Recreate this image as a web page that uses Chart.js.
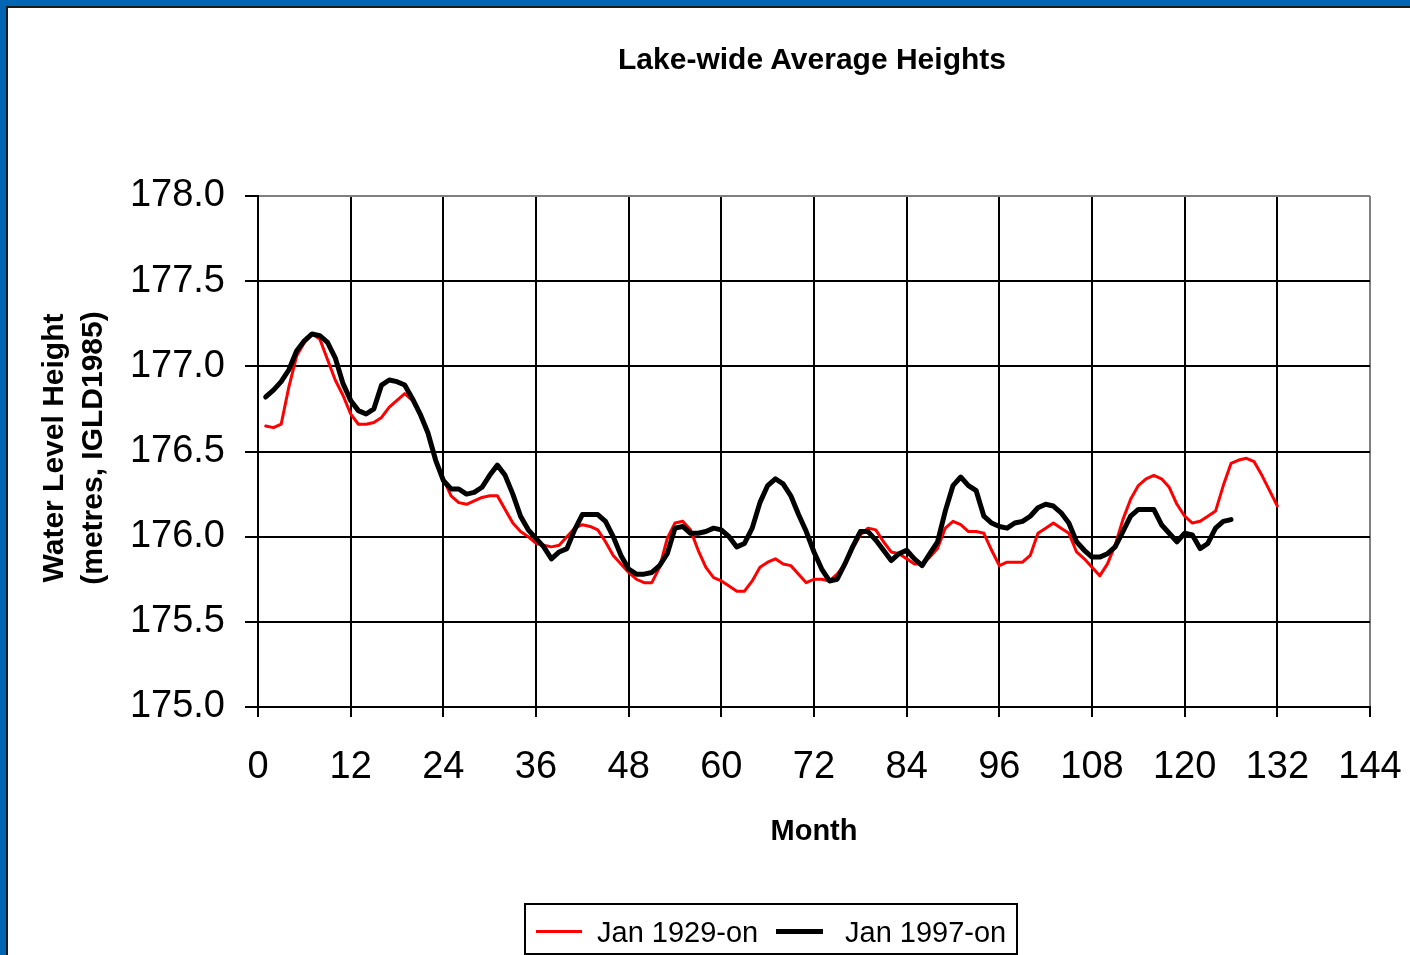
<!DOCTYPE html>
<html>
<head>
<meta charset="utf-8">
<script src="https://cdn.jsdelivr.net/npm/chart.js@4"></script>
<style>
  html, body { margin: 0; padding: 0; background: #fff; overflow: hidden; }
  body { width: 1410px; height: 955px; position: relative; font-family: "Liberation Sans", Arial, sans-serif; }
  #frame { position: absolute; left: 0; top: 0; width: 1500px; height: 1100px; border-left: 6px solid #0066b3; border-top: 6px solid #0066b3; }
  #frame div { width: 100%; height: 100%; border-left: 2px solid #1a1a1a; border-top: 2px solid #1a1a1a; }
  #graficoNivel { position: absolute; left: 0; top: 0; }
  .txt { position: absolute; color: #000; white-space: nowrap; }
  #titulo { left: 562px; width: 500px; top: 42px; text-align: center; font-weight: bold; font-size: 30px; line-height: 34px; }
  #tituloX { left: 664px; width: 300px; top: 813px; text-align: center; font-weight: bold; font-size: 29px; line-height: 34px; }
  #tituloY { left: -128px; top: 409px; width: 400px; height: 78px; text-align: center; font-weight: bold; font-size: 30px; line-height: 39px; transform: rotate(-90deg); }
  #legenda { position: absolute; left: 524px; top: 903px; width: 490px; height: 48px; border: 2px solid #000; font-size: 29px; }
  #legenda .amostra { position: absolute; top: 25px; }
  #legenda .rot { position: absolute; top: 12px; line-height: 30px; }
</style>
</head>
<body>
<div id="frame"><div></div></div>
<canvas id="graficoNivel" width="1410" height="955"></canvas>
<div class="txt" id="titulo">Lake-wide Average Heights</div>
<div class="txt" id="tituloX">Month</div>
<div class="txt" id="tituloY">Water Level Height<br>(metres, IGLD1985)</div>
<div id="legenda">
  <div class="amostra" style="left:10px;width:46px;height:3px;background:#ff0000;"></div>
  <div class="txt rot" style="left:71px;">Jan 1929-on</div>
  <div class="amostra" style="left:250px;width:47px;height:5px;top:24px;background:#000;"></div>
  <div class="txt rot" style="left:319px;">Jan 1997-on</div>
</div>
<script>
// alturas medias mensais (m)
const serie1929 = [
  176.65, 176.64, 176.66, 176.88, 177.06, 177.14, 177.19, 177.16, 177.04, 176.92, 176.83, 176.72,
  176.66, 176.66, 176.67, 176.70, 176.76, 176.80, 176.84, 176.80, 176.72, 176.60, 176.45, 176.34,
  176.24, 176.20, 176.19, 176.21, 176.23, 176.24, 176.24, 176.16, 176.08, 176.03, 176.00, 175.96,
  175.95, 175.94, 175.95, 176.00, 176.05, 176.07, 176.06, 176.04, 175.97, 175.89, 175.84, 175.79,
  175.75, 175.73, 175.73, 175.82, 175.99, 176.08, 176.09, 176.04, 175.92, 175.82, 175.76, 175.74,
  175.71, 175.68, 175.68, 175.74, 175.82, 175.85, 175.87, 175.84, 175.83, 175.78, 175.73, 175.75,
  175.75, 175.74, 175.78, 175.84, 175.93, 176.01, 176.05, 176.04, 175.97, 175.91, 175.90, 175.87,
  175.84, 175.84, 175.88, 175.93, 176.05, 176.09, 176.07, 176.03, 176.03, 176.02, 175.92, 175.83,
  175.85, 175.85, 175.85, 175.89, 176.02, 176.05, 176.08, 176.05, 176.02, 175.91, 175.87, 175.82,
  175.77, 175.84, 175.95, 176.10, 176.22, 176.30, 176.34, 176.36, 176.34, 176.29, 176.19, 176.12,
  176.08, 176.09, 176.12, 176.15, 176.30, 176.43, 176.45, 176.46, 176.44, 176.36, 176.27, 176.18
];
const serie1997 = [
  176.82, 176.86, 176.91, 176.98, 177.09, 177.15, 177.19, 177.18, 177.14, 177.05, 176.90, 176.80,
  176.74, 176.72, 176.75, 176.89, 176.92, 176.91, 176.89, 176.81, 176.72, 176.61, 176.45, 176.33,
  176.28, 176.28, 176.25, 176.26, 176.29, 176.36, 176.42, 176.36, 176.25, 176.12, 176.04, 175.99,
  175.94, 175.87, 175.91, 175.93, 176.04, 176.13, 176.13, 176.13, 176.09, 176.00, 175.89, 175.81,
  175.78, 175.78, 175.79, 175.83, 175.90, 176.05, 176.06, 176.02, 176.02, 176.03, 176.05, 176.04,
  176.00, 175.94, 175.96, 176.05, 176.20, 176.30, 176.34, 176.31, 176.24, 176.13, 176.03, 175.91,
  175.81, 175.74, 175.75, 175.84, 175.94, 176.03, 176.03, 175.98, 175.92, 175.86, 175.90, 175.92,
  175.87, 175.83, 175.90, 175.97, 176.15, 176.30, 176.35, 176.30, 176.27, 176.12, 176.08, 176.06,
  176.05, 176.08, 176.09, 176.12, 176.17, 176.19, 176.18, 176.14, 176.08, 175.97, 175.92, 175.88,
  175.88, 175.90, 175.94, 176.03, 176.12, 176.16, 176.16, 176.16, 176.07, 176.02, 175.97, 176.02,
  176.01, 175.93, 175.96, 176.05, 176.09, 176.10
];
// mes 1..N de cada serie
const meses1929 = serie1929.map((v, i) => i + 1);
const meses1997 = serie1997.map((v, i) => i + 1);
const ticksMes = [0, 12, 24, 36, 48, 60, 72, 84, 96, 108, 120, 132, 144];
const ticksAltura = [175.0, 175.5, 176.0, 176.5, 177.0, 177.5, 178.0];

function renderizarGraficoNivel() {
    const canvas = document.getElementById('graficoNivel');
    if (!canvas) return;

    const fonteTick = { family: "'Liberation Sans', Arial, sans-serif", size: 38 };

    new Chart(canvas, {
        type: 'line',
        data: {
            datasets: [{
                label: 'Jan 1929-on',
                data: meses1929.map((m, i) => ({ x: m, y: serie1929[i] })),
                borderColor: '#ff0000',
                borderWidth: 3,
                order: 2
            }, {
                label: 'Jan 1997-on',
                data: meses1997.map((m, i) => ({ x: m, y: serie1997[i] })),
                borderColor: '#000000',
                borderWidth: 5,
                order: 1
            }]
        },
        options: {
            responsive: false,
            animation: false,
            layout: { padding: { left: 0, top: 196, right: 40, bottom: 0 } },
            elements: {
                point: { radius: 0 },
                line: { tension: 0, borderJoinStyle: 'round', borderCapStyle: 'round' }
            },
            plugins: { legend: { display: false }, tooltip: { enabled: false } },
            scales: {
                x: {
                    type: 'linear',
                    min: 0,
                    max: 144,
                    // o rotulo 144 nao deve empurrar a area do grafico
                    afterFit: s => { s.height = 248; s.paddingLeft = 0; s.paddingRight = 0; },
                    afterBuildTicks: s => { s.ticks = ticksMes.map(v => ({ value: v })); },
                    ticks: { color: '#000', font: fonteTick, padding: 28, maxRotation: 0, autoSkip: false },
                    grid: {
                        color: c => (c.tick && c.tick.value === 144) ? '#808080' : '#000',
                        lineWidth: 2,
                        tickLength: 10,
                        tickColor: '#000'
                    },
                    border: { color: '#000', width: 2 }
                },
                y: {
                    min: 175,
                    max: 178,
                    afterFit: s => { s.width = 258; s.paddingTop = 0; s.paddingBottom = 0; },
                    afterBuildTicks: s => { s.ticks = ticksAltura.map(v => ({ value: v })); },
                    ticks: { color: '#000', font: fonteTick, padding: 20, callback: v => v.toFixed(1) },
                    grid: {
                        color: c => (c.tick && c.tick.value === 178) ? '#808080' : '#000',
                        lineWidth: 2,
                        tickLength: 13,
                        tickColor: '#000'
                    },
                    border: { color: '#000', width: 2 }
                }
            }
        }
    });
}

renderizarGraficoNivel();
</script>
</body>
</html>
